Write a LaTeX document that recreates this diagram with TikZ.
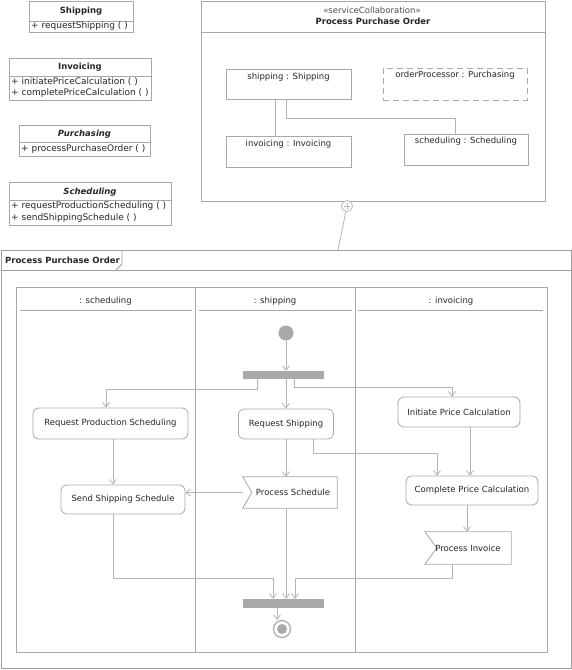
\documentclass[tikz,border=0pt]{standalone}
\usepackage{fontspec}
\setmainfont{DejaVu Sans}
\usetikzlibrary{arrows.meta}
\definecolor{ln}{HTML}{B4B4B4}
\definecolor{bd}{HTML}{A8A8A8}
\definecolor{fr}{HTML}{A0A0A0}
\definecolor{barc}{HTML}{A9A9A9}
\definecolor{tx}{HTML}{262626}
\definecolor{stx}{HTML}{505050}
\begin{document}
\begin{tikzpicture}[x=1pt,y=-1pt,
  font=\fontsize{8.5}{10}\selectfont, text=tx,
  box/.style={draw=bd, line width=0.8pt, inner sep=0, fill=white},
  act/.style={box, rounded corners=6},
  txt/.style={inner sep=0},
  attr/.style={inner sep=0, anchor=west, font=\fontsize{9}{10}\selectfont},
  ttl/.style={inner sep=0, font=\fontsize{8.5}{10}\selectfont\bfseries},
  ittl/.style={inner sep=0, font=\fontsize{8.5}{10}\selectfont\bfseries\itshape},
  conn/.style={draw=ln, line width=0.8pt},
  flow/.style={conn, -{Straight Barb[length=4.5pt,width=7pt,line width=0.8pt]}},
  barnode/.style={fill=barc, draw=none, inner sep=0}
]
\useasboundingbox (0,0) rectangle (572,670);
\fill[white] (0,0) rectangle (572,670);

% ---------- class boxes ----------
\node[box, anchor=north west, minimum width=104, minimum height=31] (clsShip) at (29,1) {};
\draw[conn, draw=bd] (clsShip.west |- 0,21) -- (clsShip.east |- 0,21);
\node[ttl] (clsShipT) at (81,11) {Shipping};
\node[attr] (clsShipA) at (31,26.5) {+ requestShipping ( )};

\node[box, anchor=north west, minimum width=142, minimum height=42] (clsInv) at (9,58) {};
\draw[conn, draw=bd] (clsInv.west |- 0,76) -- (clsInv.east |- 0,76);
\node[ttl] (clsInvT) at (80,67.5) {Invoicing};
\node[attr] (clsInvA) at (11,82) {+ initiatePriceCalculation ( )};
\node[attr] (clsInvB) at (11,93.5) {+ completePriceCalculation ( )};

\node[box, anchor=north west, minimum width=131, minimum height=31] (clsPur) at (19,125) {};
\draw[conn, draw=bd] (clsPur.west |- 0,142) -- (clsPur.east |- 0,142);
\node[ittl] (clsPurT) at (84.5,134.5) {Purchasing};
\node[attr] (clsPurA) at (21,149) {+ processPurchaseOrder ( )};

\node[box, anchor=north west, minimum width=162, minimum height=43] (clsSch) at (9,182) {};
\draw[conn, draw=bd] (clsSch.west |- 0,200) -- (clsSch.east |- 0,200);
\node[ittl] (clsSchT) at (90,192) {Scheduling};
\node[attr] (clsSchA) at (11,206.5) {+ requestProductionScheduling ( )};
\node[attr] (clsSchB) at (11,218) {+ sendShippingSchedule ( )};

% ---------- service collaboration ----------
\node[box, anchor=north west, minimum width=344, minimum height=200] (collab) at (201,1) {};
\draw[conn, draw=bd] (collab.west |- 0,32) -- (collab.east |- 0,32);
\node[txt, text=stx, font=\fontsize{8.5}{10}\selectfont] (collabS) at (372,10) {«serviceCollaboration»};
\node[ttl] (collabT) at (373,21.5) {Process Purchase Order};

\node[box, anchor=north west, minimum width=125, minimum height=30] (cs) at (226,69) {};
\node[txt] (csT) at (288.5,77) {shipping : Shipping};
\node[box, dash pattern=on 6pt off 4pt, anchor=north west, minimum width=144, minimum height=32] (co) at (383,68) {};
\node[txt] (coT) at (455,75.5) {orderProcessor : Purchasing};
\node[box, anchor=north west, minimum width=125, minimum height=31] (ci) at (226,136) {};
\node[txt] (ciT) at (288.5,144) {invoicing : Invoicing};
\node[box, anchor=north west, minimum width=124, minimum height=31] (csch) at (404,134) {};
\node[txt] (cschT) at (466,141.5) {scheduling : Scheduling};

\draw[conn] (cs.south -| 275,0) -- (ci.north -| 275,0);
\draw[conn] (cs.south -| 286,0) |- (455,118) -- (csch.north -| 455,0);

% ---------- frame ----------
\node[draw=fr, line width=0.9pt, inner sep=0, anchor=north west, minimum width=570, minimum height=418] (frame) at (1,250) {};
\draw[draw=fr, line width=0.8pt] (frame.west |- 0,270) -- (frame.east |- 0,270);
\draw[draw=fr, line width=0.8pt] (frame.north -| 122,0) -- (122,264) -- (116,270);
\node[ttl, anchor=west] (frameT) at (5,260) {Process Purchase Order};

\node[circle, draw=ln, line width=0.7pt, minimum size=11, inner sep=0, fill=white] (plus) at (347,206) {};
\draw[ln, line width=0.6pt] ([xshift=-3]plus.center) -- ([xshift=3]plus.center)
  ([yshift=-3]plus.center) -- ([yshift=3]plus.center);
\draw[conn] (plus) -- (frame.north -| 338,0);

% ---------- partitions ----------
\node[draw=bd, line width=0.8pt, inner sep=0, anchor=north west, minimum width=531, minimum height=365] (lanes) at (16,287) {};
\draw[conn, draw=bd] (lanes.north -| 195,0) -- (lanes.south -| 195,0);
\draw[conn, draw=bd] (lanes.north -| 355,0) -- (lanes.south -| 355,0);
\draw[conn, draw=bd] (20,310) -- (192,310) (199,310) -- (352,310) (358,310) -- (543,310);
\node[txt] (laneA) at (105.5,301) {: scheduling};
\node[txt] (laneB) at (275,301) {: shipping};
\node[txt] (laneC) at (451,301) {: invoicing};

% ---------- activity nodes ----------
\node[circle, fill=barc, draw=none, minimum size=15, inner sep=0] (init) at (286,333) {};
\node[barnode, minimum width=81, minimum height=8] (fork) at (283.5,375) {};
\node[act, minimum width=155, minimum height=31] (rps) at (110.5,423.5) {Request Production Scheduling};
\node[act, minimum width=95, minimum height=30] (rs) at (286,424) {Request Shipping};
\node[act, minimum width=122, minimum height=30] (ipc) at (459,412) {Initiate Price Calculation};
\node[act, minimum width=132, minimum height=29] (cpc) at (472,490.5) {Complete Price Calculation};
\node[inner sep=0, minimum width=94, minimum height=31] (ps) at (290,492.5) {};
\draw[draw=bd, line width=0.8pt, fill=white] (ps.north west) -- (ps.north east) -- (ps.south east) -- (ps.south west) -- ([xshift=9]ps.west) -- cycle;
\node[inner sep=0] (psT) at ([xshift=3]ps.center) {Process Schedule};
\node[act, minimum width=124, minimum height=29] (sss) at (123,499.5) {Send Shipping Schedule};
\node[inner sep=0, minimum width=86, minimum height=32] (pi) at (468,548) {};
\draw[draw=bd, line width=0.8pt, fill=white] (pi.north west) -- (pi.north east) -- (pi.south east) -- (pi.south west) -- ([xshift=12]pi.west) -- cycle;
\node[inner sep=0] (piT) at (pi.center) {Process Invoice};
\node[barnode, minimum width=81, minimum height=9] (join) at (283.5,603.5) {};
\node[circle, draw=barc, line width=1.2pt, fill=white, minimum size=17, inner sep=0] (final) at (282,629) {};
\node[circle, fill=barc, minimum size=10, inner sep=0] (finalIn) at (final.center) {};

% ---------- flows ----------
\draw[flow] (init.south) -- (init.south |- fork.north);
\draw[flow] (rs.north |- fork.south) -- (rs.north);
\draw[flow] (fork.south -| 257,0) |- (106,389) -- (rps.north -| 106,0);
\draw[flow] (fork.south -| 294,0) |- (452,387) -- (ipc.north -| 452,0);
\draw[flow] (rps.south -| 113,0) -- (sss.north -| 113,0);
\draw[flow] (rs.south) -- (rs.south |- ps.north);
\draw[flow] (rs.south -| 313,0) |- (437,453) -- (cpc.north -| 437,0);
\draw[flow] (ipc.south -| 470,0) -- (cpc.north -| 470,0);
\draw[flow] (ps.west) -- (ps.west -| sss.east);
\draw[flow] (cpc.south -| 467,0) -- (pi.north -| 467,0);
\draw[flow] (sss.south -| 113,0) |- (273,578) -- (join.north -| 273,0);
\draw[flow] (ps.south -| 286,0) -- (join.north -| 286,0);
\draw[flow] (pi.south -| 452,0) |- (295,578) -- (join.north -| 295,0);
\draw[flow] (join.south -| 277,0) -- (final.north -| 277,0);
\end{tikzpicture}
\end{document}
